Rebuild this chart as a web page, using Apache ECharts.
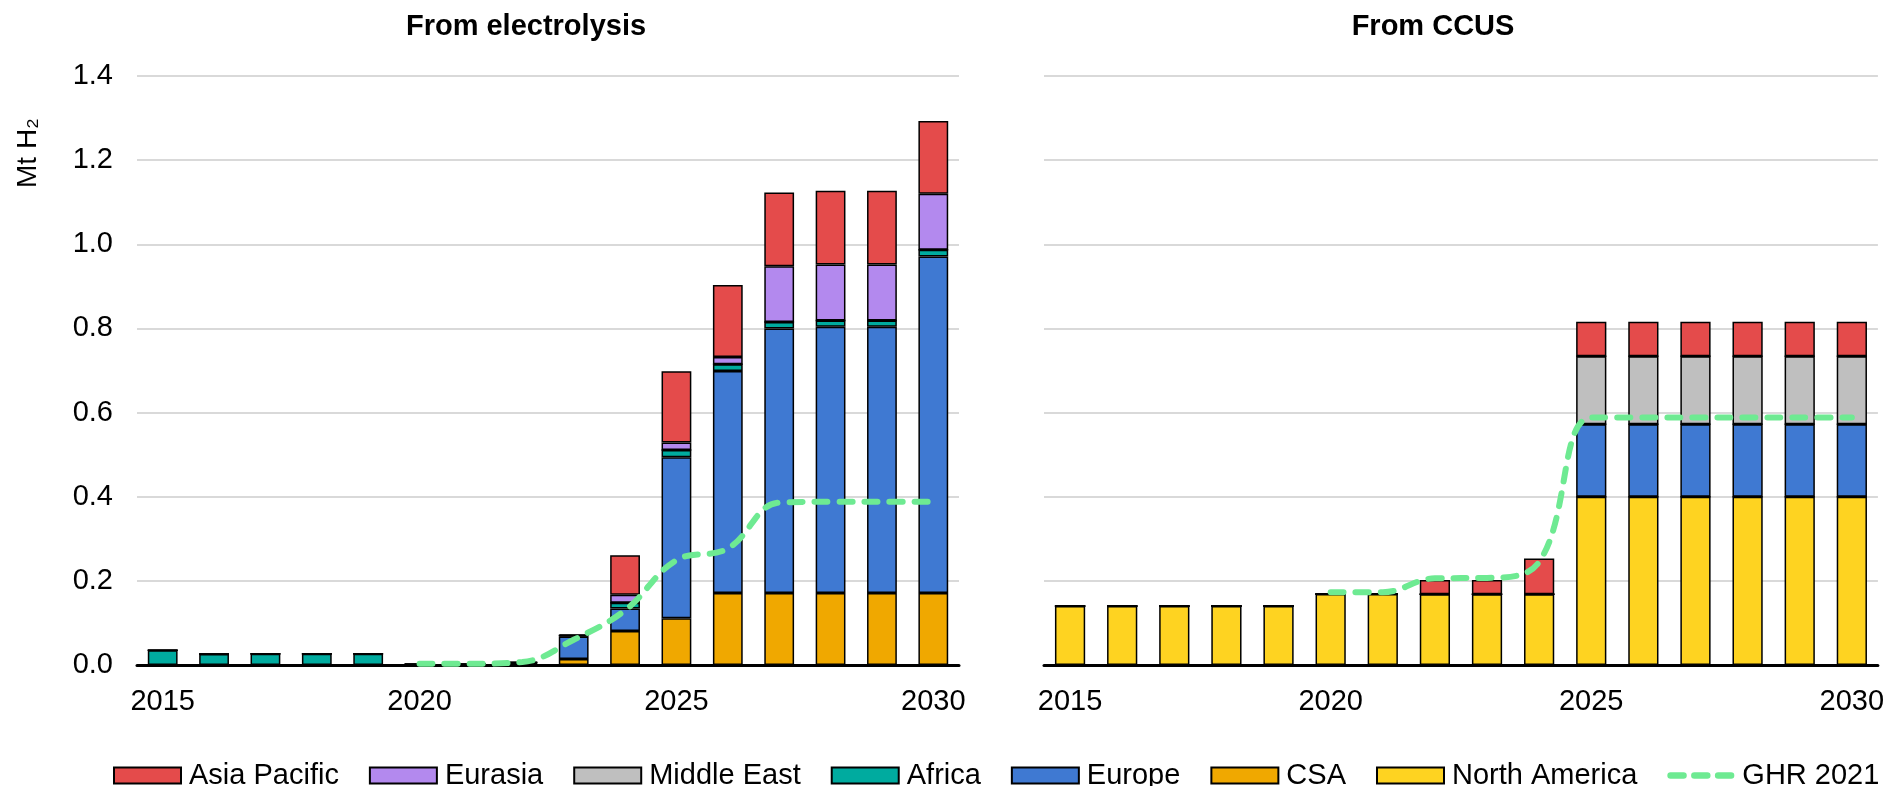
<!DOCTYPE html>
<html>
<head>
<meta charset="utf-8">
<title>Low-emission hydrogen production</title>
<script src="https://cdn.jsdelivr.net/npm/echarts/dist/echarts.min.js"></script>
<style>
  html, body { margin: 0; padding: 0; background: #fff; }
  #chart { width: 1887px; height: 786px; }
</style>
</head>
<body>
<div id="chart"></div>
<script>
// years on the x axis (both panels)
var years = ['2015', '2016', '2017', '2018', '2019', '2020', '2021', '2022',
  '2023', '2024', '2025', '2026', '2027', '2028', '2029', '2030']

// From electrolysis, Mt H2
var elNorthAmerica = [0, 0, 0, 0, 0, 0, 0, 0, 0, 0, 0, 0, 0, 0, 0, 0]
var elCSA = [0, 0, 0, 0, 0, 0, 0, 0, 0.014, 0.081, 0.111, 0.171, 0.171, 0.171, 0.171, 0.171]
var elEurope = [0, 0, 0, 0, 0, 0.002, 0.002, 0.006, 0.054, 0.053, 0.383, 0.528, 0.629, 0.633, 0.633, 0.800]
var elAfrica = [0.035, 0.026, 0.027, 0.027, 0.027, 0, 0, 0, 0.002, 0.014, 0.017, 0.016, 0.015, 0.015, 0.015, 0.016]
var elMiddleEast = [0, 0, 0, 0, 0, 0, 0, 0, 0, 0, 0, 0, 0, 0, 0, 0]
var elEurasia = [0, 0, 0, 0, 0, 0, 0, 0, 0, 0.019, 0.018, 0.017, 0.133, 0.133, 0.133, 0.133]
var elAsiaPacific = [0, 0, 0, 0, 0, 0, 0, 0, 0.003, 0.094, 0.169, 0.171, 0.175, 0.175, 0.175, 0.173]
var elGhr = [null, null, null, null, null, 0.003, 0.003, 0.007, 0.06, 0.13, 0.249, 0.277, 0.386, 0.388, 0.388, 0.388]

// From CCUS, Mt H2
var ccNorthAmerica = [0.14, 0.14, 0.14, 0.14, 0.14, 0.169, 0.169, 0.168, 0.168, 0.168, 0.40, 0.40, 0.40, 0.40, 0.40, 0.40]
var ccCSA = [0, 0, 0, 0, 0, 0, 0, 0, 0, 0, 0, 0, 0, 0, 0, 0]
var ccEurope = [0, 0, 0, 0, 0, 0, 0, 0, 0, 0, 0.172, 0.172, 0.172, 0.172, 0.172, 0.172]
var ccAfrica = [0, 0, 0, 0, 0, 0, 0, 0, 0, 0, 0, 0, 0, 0, 0, 0]
var ccMiddleEast = [0, 0, 0, 0, 0, 0, 0, 0, 0, 0, 0.162, 0.162, 0.162, 0.162, 0.162, 0.162]
var ccEurasia = [0, 0, 0, 0, 0, 0, 0, 0, 0, 0, 0, 0, 0, 0, 0, 0]
var ccAsiaPacific = [0, 0, 0, 0, 0, 0, 0, 0.034, 0.034, 0.085, 0.082, 0.082, 0.082, 0.082, 0.082, 0.082]
var ccGhr = [null, null, null, null, null, 0.173, 0.173, 0.206, 0.207, 0.245, 0.588, 0.588, 0.588, 0.588, 0.588, 0.588]

var font = 'Arial, "Liberation Sans", Helvetica, sans-serif'
var ghrColor = '#6EEA92'

// stack order bottom -> top
var regions = ['North America', 'CSA', 'Europe', 'Africa', 'Middle East', 'Eurasia', 'Asia Pacific']
var regionColors = {
  'North America': '#FED321',
  'CSA': '#F0A800',
  'Europe': '#3F79D2',
  'Africa': '#00AB9F',
  'Middle East': '#BFBFBF',
  'Eurasia': '#B389EE',
  'Asia Pacific': '#E44B4B'
}
var electrolysis = [elNorthAmerica, elCSA, elEurope, elAfrica, elMiddleEast, elEurasia, elAsiaPacific]
var ccus = [ccNorthAmerica, ccCSA, ccEurope, ccAfrica, ccMiddleEast, ccEurasia, ccAsiaPacific]

function barSeries (name, data, idx) {
  return {
    name: name,
    type: 'bar',
    stack: 'panel' + idx,
    xAxisIndex: idx,
    yAxisIndex: idx,
    barWidth: '58%',
    data: data,
    itemStyle: {
      color: regionColors[name],
      borderColor: '#000',
      borderWidth: 1.5
    }
  }
}

function ghrSeries (data, idx) {
  return {
    name: 'GHR 2021',
    type: 'line',
    xAxisIndex: idx,
    yAxisIndex: idx,
    data: data,
    smooth: 0.4,
    symbol: 'none',
    z: 5,
    itemStyle: { color: ghrColor },
    lineStyle: { color: ghrColor, width: 6, type: [13, 12], cap: 'round' }
  }
}

var series = []
regions.forEach(function (r, i) { series.push(barSeries(r, electrolysis[i], 0)) })
series.push(ghrSeries(elGhr, 0))
regions.forEach(function (r, i) { series.push(barSeries(r, ccus[i], 1)) })
series.push(ghrSeries(ccGhr, 1))

function xAxis (idx) {
  return {
    type: 'category',
    gridIndex: idx,
    data: years,
    axisTick: { show: false },
    axisLine: { lineStyle: { color: '#000', width: 3 } },
    axisLabel: { interval: 4, margin: 22, color: '#000', fontSize: 29, fontFamily: font }
  }
}

function yAxis (idx) {
  return {
    type: 'value',
    gridIndex: idx,
    min: 0,
    max: 1.4,
    interval: 0.2,
    axisLine: { show: false },
    axisTick: { show: false },
    splitLine: { lineStyle: { color: '#D9D9D9', width: 2 } },
    axisLabel: {
      show: idx === 0,
      margin: 24,
      color: '#000',
      fontSize: 29,
      fontFamily: font,
      formatter: function (v) { return v.toFixed(1) }
    }
  }
}

var legendNames = ['Asia Pacific', 'Eurasia', 'Middle East', 'Africa', 'Europe', 'CSA', 'North America']
// three rounded dashes for the GHR legend key
var dashIcon = 'path://M3,0H15A3,3 0 0 1 15,6H3A3,3 0 0 1 3,0Z' +
  'M25,0H37A3,3 0 0 1 37,6H25A3,3 0 0 1 25,0Z' +
  'M47,0H59A3,3 0 0 1 59,6H47A3,3 0 0 1 47,0Z'

var chart = echarts.init(document.getElementById('chart'))
chart.setOption({
  animation: false,
  title: [
    { text: 'From electrolysis', left: 526, top: 12, padding: 0, textAlign: 'center',
      textStyle: { fontSize: 29, fontWeight: 'bold', color: '#000', fontFamily: font } },
    { text: 'From CCUS', left: 1433, top: 12, padding: 0, textAlign: 'center',
      textStyle: { fontSize: 29, fontWeight: 'bold', color: '#000', fontFamily: font } }
  ],
  graphic: [
    {
      type: 'text',
      x: 28,
      y: 153,
      rotation: Math.PI / 2,
      style: {
        text: 'Mt H₂',
        fontSize: 28,
        fontFamily: font,
        fill: '#000',
        align: 'center',
        verticalAlign: 'middle'
      }
    }
  ],
  legend: {
    left: 108,
    top: 756,
    itemWidth: 67,
    itemHeight: 16,
    itemGap: 30,
    symbolKeepAspect: true,
    textStyle: { fontSize: 29, color: '#000', fontFamily: font, padding: [0, 0, 0, 3] },
    data: legendNames.map(function (n) { return { name: n, icon: 'rect' } })
      .concat([{ name: 'GHR 2021', icon: dashIcon, itemStyle: { color: ghrColor, borderWidth: 0 } }])
  },
  grid: [
    { left: 137, right: 928, top: 76, bottom: 121 },
    { left: 1044, right: 6, top: 76, bottom: 121 }
  ],
  xAxis: [xAxis(0), xAxis(1)],
  yAxis: [yAxis(0), yAxis(1)],
  series: series
})
</script>
</body>
</html>
